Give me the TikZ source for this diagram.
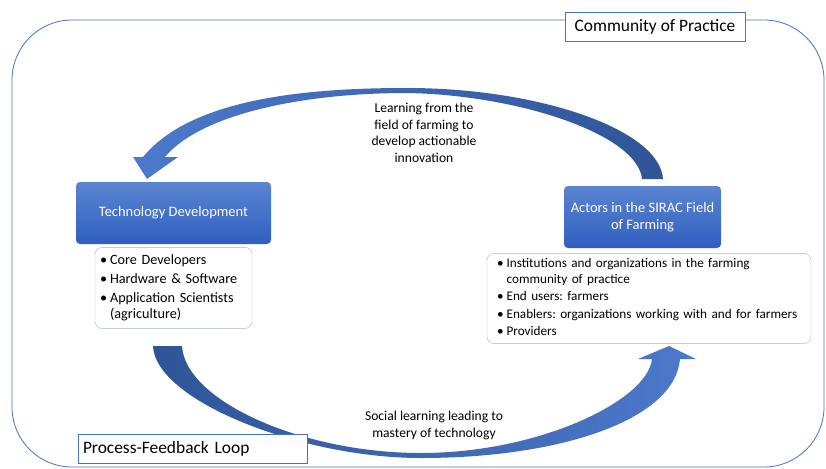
\documentclass[tikz,border=0pt]{standalone}
\usepackage{fontspec}
\setmainfont{Carlito}
\frenchspacing
\usetikzlibrary{positioning}

\definecolor{framecol}{HTML}{4472C4}
\definecolor{boxtop}{HTML}{5B84D1}
\definecolor{boxbottom}{HTML}{2F5FBF}
\definecolor{listborder}{HTML}{9DB3DD}
\definecolor{arrowdark}{HTML}{2F5597}
\definecolor{arrowmid}{HTML}{4D79CC}
\definecolor{arrowpale}{HTML}{86A5DD}

\begin{document}
\begin{tikzpicture}[x=1pt,y=-1pt,
					frame line/.style={draw=framecol,line width=0.8pt},
					blue node/.style={rounded corners=4pt,top color=boxtop,bottom color=boxbottom,
						text=white,minimum height=62pt,align=center,
						font=\fontsize{14.5}{16.5}\selectfont},
					list node/.style={draw=listborder,rounded corners=7pt,fill=white,align=left},
					tag node/.style={draw=framecol,fill=white,line width=0.6pt,minimum height=29pt,
						font=\fontsize{17.4}{20}\selectfont},
					loop label/.style={align=center,font=\fontsize{13.6}{16.5}\selectfont}]

  \useasboundingbox (0,0) rectangle (826,468);

  % community of practice frame
  \draw[frame line,rounded corners=60pt] (12,20) rectangle (824,467);

  % upper arrow: field of farming -> technology
  \shade[left color=arrowmid,middle color=arrowpale,right color=arrowdark]
    (663,179) .. controls (660,130) and (540,88) .. (407,88)
    .. controls (300,88) and (190,100) .. (143,157)
    -- (133,157) -- (147,179) -- (178,157) -- (165,157)
    .. controls (200,115) and (300,93) .. (407,93)
    .. controls (520,95) and (638,135) .. (642,179) -- cycle;

  % lower arrow: technology -> field of farming
  \shade[left color=arrowdark,middle color=arrowpale,right color=arrowmid]
    (153,346) .. controls (155,400) and (300,458) .. (421,458)
    .. controls (560,458) and (675,420) .. (680,359)
    -- (696,359) -- (669,346) -- (638,359) -- (652,359)
    .. controls (648,400) and (540,453) .. (421,453)
    .. controls (300,453) and (185,400) .. (182,346) -- cycle;

  \node[blue node,minimum width=195pt] (tech) at (173.5,213) {Technology Development};
  \node[blue node,minimum width=157pt] (actors) at (642.5,217) {Actors in the SIRAC Field\\of Farming};

  \node[list node,inner xsep=5pt,text width=147pt,minimum height=81pt,
        font=\fontsize{14.2}{16}\selectfont] (techlist) [below=3pt of tech]
    {\begin{tabular}{@{}l@{\hspace{3pt}}l@{}}
      \textbullet & Core Developers\\[3pt]
      \textbullet & Hardware \& Software\\[3pt]
      \textbullet & Application Scientists\\
                  & (agriculture)
    \end{tabular}};
  \node[list node,inner xsep=10pt,text width=304pt,minimum height=88pt,
        font=\fontsize{13.2}{15.5}\selectfont] (actorlist) [below=5pt of actors,xshift=6.5pt]
    {\begin{tabular}{@{}l@{\hspace{3pt}}l@{}}
      \textbullet & Institutions and organizations in the farming\\
                  & community of practice\\[2pt]
      \textbullet & End users: farmers\\[2pt]
      \textbullet & Enablers: organizations working with and for farmers\\[2pt]
      \textbullet & Providers
    \end{tabular}};

  \node[loop label] (learning) at (424,133) {Learning from the\\field of farming to\\develop actionable\\innovation};
  \node[loop label] (social) at (434,425.5) {Social learning leading to\\mastery of technology};

  \node[tag node,minimum width=180pt] (community) at (655,26.5) {Community of Practice};
  \node[tag node,inner xsep=5pt,text width=219pt,align=left] (process) at (192.5,448.5) {Process-Feedback Loop};
\end{tikzpicture}
\end{document}
